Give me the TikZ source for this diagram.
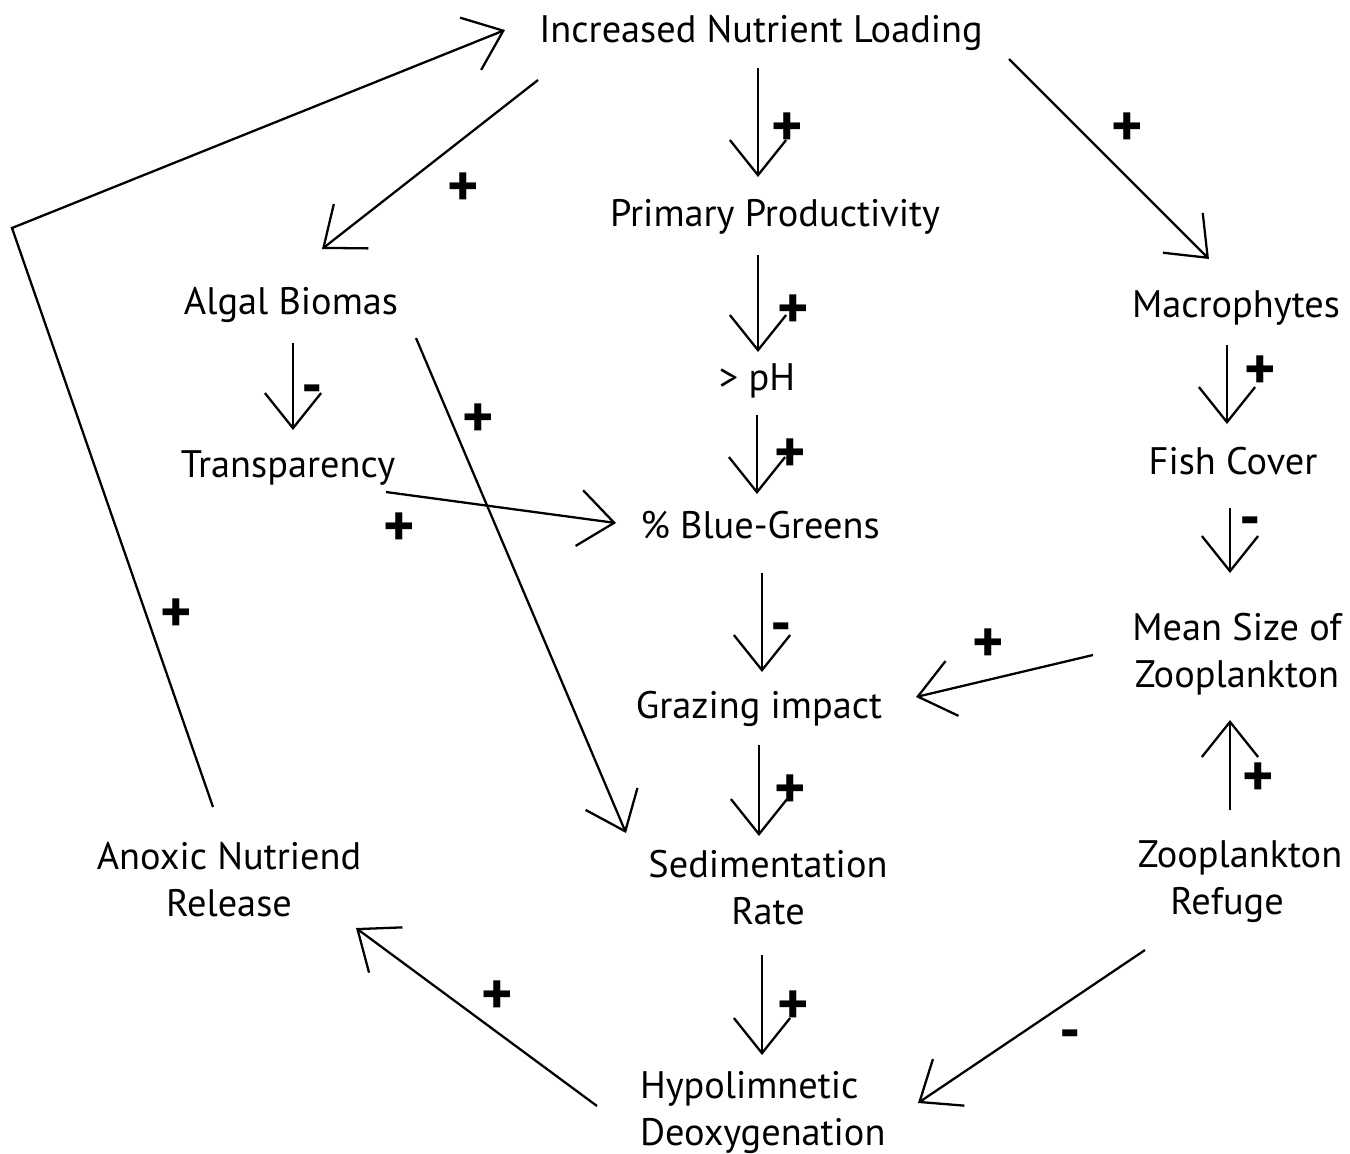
\documentclass[tikz,border=0pt]{standalone}
\usepackage{fontspec}
\setmainfont{PT Sans}
\usetikzlibrary{arrows.meta}
\begin{document}
\begin{tikzpicture}[x=0.01cm,y=-0.01cm,
  txt/.style={inner sep=0pt,outer sep=0pt,anchor=base,align=center,font=\fontsize{10.9pt}{13.3pt}\selectfont},
  sgn/.style={inner sep=0pt,anchor=center,yshift=-0.03cm,font=\fontsize{17pt}{17pt}\selectfont\bfseries},
  arr/.style={line width=0.65pt,-{Straight Barb[length=10pt,width=16pt]}}]
\fill[white] (0,0) rectangle (1350,1153);
\useasboundingbox (0,0) rectangle (1350,1153);
% nodes
\node[txt] (inl) at (761,42) {Increased Nutrient Loading};
\node[txt] (pp) at (775,226) {Primary Productivity};
\node[txt] (ph) at (757,390) {> pH};
\node[txt] (bg) at (760,538) {\% Blue-Greens};
\node[txt] (gi) at (759,718) {Grazing impact};
\node[txt] (sr) at (768,924) {Sedimentation\\Rate};
\node[txt,anchor=base west,align=left] (hd) at (640,1145) {Hypolimnetic\\Deoxygenation};
\node[txt] (ab) at (291,314) {Algal Biomas};
\node[txt] (tr) at (288,477) {Transparency};
\node[txt] (anr) at (229,916) {Anoxic Nutriend\\Release};
\node[txt] (ma) at (1236,317) {Macrophytes};
\node[txt] (fc) at (1233,474) {Fish Cover};
\node[txt] (ms) at (1237,687) {Mean Size of\\Zooplankton};
\node[txt] (zr) at (1240,914) {Zooplankton\\Refuge\hspace*{0.26cm}};
\coordinate (corner) at (12,228);
% connectors
\draw[arr] ([shift={(-3,26)}]inl.base) -- ([shift={(-17,-49)}]pp.base);
\draw[arr] ([shift={(-17,29)}]pp.base) -- ([shift={(1,-38)}]ph.base);
\draw[arr] ([shift={(0,25)}]ph.base) -- ([shift={(-3,-44)}]bg.base);
\draw[arr] ([shift={(2,35)}]bg.base) -- ([shift={(3,-46)}]gi.base);
\draw[arr] ([shift={(0,27)}]gi.base) -- ([shift={(-9,-88)}]sr.base);
\draw[arr] ([shift={(-6,31)}]sr.base) -- ([shift={(122,-90)}]hd.base west);
\draw[arr] ([shift={(-223,38)}]inl.base) -- ([shift={(31,-65)}]ab.base);
\draw[arr] ([shift={(248,17)}]inl.base) -- ([shift={(-27,-58)}]ma.base);
\draw[arr] ([shift={(-9,28)}]ma.base) -- ([shift={(-6,-50)}]fc.base);
\draw[arr] ([shift={(-3,34)}]fc.base) -- ([shift={(-7,-114)}]ms.base);
\draw[arr] ([shift={(-10,-104)}]zr.base) -- ([shift={(-7,33)}]ms.base);
\draw[arr] ([shift={(-144,-32)}]ms.base) -- ([shift={(157,-21)}]gi.base);
\draw[arr] ([shift={(2,29)}]ab.base) -- ([shift={(5,-47)}]tr.base);
\draw[arr] ([shift={(125,24)}]ab.base) -- ([shift={(-142,-91)}]sr.base);
\draw[arr] ([shift={(98,15)}]tr.base) -- ([shift={(-144,-15)}]bg.base);
\draw[arr] ([shift={(-95,36)}]zr.base) -- ([shift={(278,-42)}]hd.base west);
\draw[arr] ([shift={(-43,-39)}]hd.base west) -- ([shift={(127,12)}]anr.base);
\draw[arr] ([shift={(-16,-109)}]anr.base) -- (corner) -- ([shift={(-256,-12)}]inl.base);
% signs
\node[sgn] (s1) at (787,127) {+};
\node[sgn] (s2) at (793,309) {+};
\node[sgn] (s3) at (790,453) {+};
\node[sgn] (s4) at (781,630) {-};
\node[sgn] (s5) at (790,789) {+};
\node[sgn] (s6) at (793,1005) {+};
\node[sgn] (s7) at (463,187) {+};
\node[sgn] (s8) at (1127,127) {+};
\node[sgn] (s9) at (1260,370) {+};
\node[sgn] (s10) at (1250,524) {-};
\node[sgn] (s11) at (1258,777) {+};
\node[sgn] (s12) at (988,643) {+};
\node[sgn] (s13) at (312,392) {-};
\node[sgn] (s14) at (478,418) {+};
\node[sgn] (s15) at (399,527) {+};
\node[sgn] (s16) at (1070,1037) {-};
\node[sgn] (s17) at (497,995) {+};
\node[sgn] (s18) at (176,613) {+};
\end{tikzpicture}
\end{document}
